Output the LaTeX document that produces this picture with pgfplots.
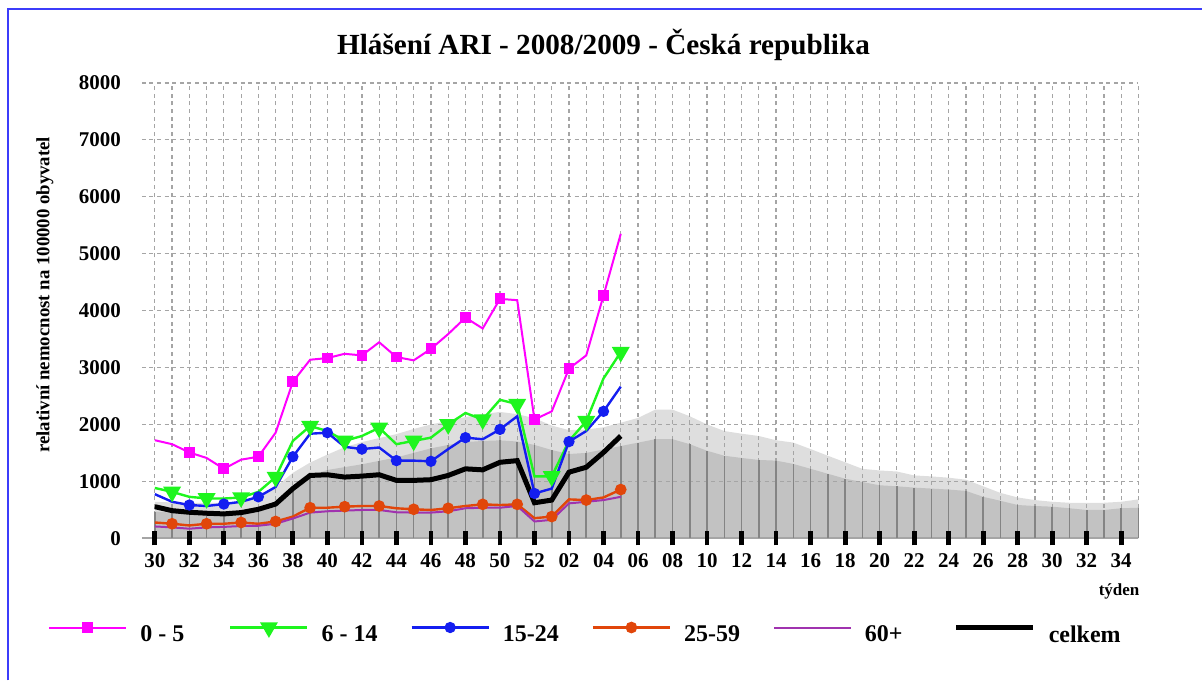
\documentclass[border=0pt]{standalone}
\usepackage{pgfplots}
\pgfplotsset{compat=1.18}
\usepackage{pgfplotstable}
\usepackage{fontspec}
\setmainfont{Liberation Serif}
\definecolor{cmag}{RGB}{255,0,255}
\definecolor{cgreen}{RGB}{30,245,30}
\definecolor{cblue}{RGB}{20,30,240}
\definecolor{corange}{RGB}{225,70,10}
\definecolor{cpurple}{RGB}{160,50,175}
\definecolor{clight}{RGB}{222,222,222}
\definecolor{cdark}{RGB}{194,194,194}
\definecolor{cvline}{RGB}{132,132,132}
\definecolor{cgrid}{RGB}{165,165,165}
\definecolor{cframe}{RGB}{60,60,250}

\pgfplotsset{
  layers/mylayers/.define layer set={
    axis background,axis grid,axis lines,axis tick labels,pre main,main,axis ticks,axis descriptions,axis foreground
  }{
    grid style={/pgfplots/on layer=axis grid},
    tick style={/pgfplots/on layer=axis ticks},
    axis line style={/pgfplots/on layer=axis lines},
    label style={/pgfplots/on layer=axis descriptions},
    legend style={/pgfplots/on layer=axis descriptions},
    title style={/pgfplots/on layer=axis descriptions},
    colorbar style={/pgfplots/on layer=axis descriptions},
    ticklabel style={/pgfplots/on layer=axis tick labels},
    axis background@ style={/pgfplots/on layer=axis background},
    3d box foreground style={/pgfplots/on layer=axis foreground},
  },
}

% i = week index (0 = week 30 of 2008, 22 = week 52, 23 = week 01 of 2009)
\pgfplotstableread{
i  m    g    b    c    o    p
0  1723 884  775  555  277  208
1  1653 815  641  485  255  191
2  1508 728  584  457  225  168
3  1411 700  567  440  255  191
4  1220 698  601  428  255  200
5  1381 717  641  451  277  215
6  1433 815  728  509  255  220
7  1855 1075 901  601  295  255
8  2750 1711 1433 873  381  347
9  3137 1971 1837 1104 537  451
10 3166 1884 1855 1116 537  474
11 3241 1711 1607 1075 555  486
12 3213 1797 1567 1092 567  497
13 3444 1941 1595 1116 567  497
14 3184 1653 1364 1017 527  457
15 3126 1711 1364 1017 509  451
16 3328 1768 1352 1029 497  451
17 3588 2000 1567 1104 527  474
18 3877 2201 1768 1220 567  527
19 3686 2086 1740 1202 596  537
20 4206 2433 1913 1335 584  537
21 4183 2357 2144 1364 596  567
22 2086 1087 787  624  353  295
23 2230 1087 873  671  381  324
24 2981 1711 1698 1161 683  613
25 3213 2057 1884 1248 671  641
26 4264 2808 2230 1508 717  671
27 5350 3270 2664 1797 856  728
}\cur

\pgfplotstableread{
i  L    D
0  640  470
1  630  450
2  620  440
3  620  430
4  620  430
5  650  440
6  720  460
7  900  560
8  1150 900
9  1330 1100
10 1470 1200
11 1600 1250
12 1690 1300
13 1760 1360
14 1830 1420
15 1920 1500
16 2000 1580
17 2060 1640
18 2130 1690
19 2180 1710
20 2220 1720
21 2180 1700
22 2110 1640
23 1980 1550
24 1900 1480
25 1910 1500
26 1950 1560
27 2030 1620
28 2114 1680
29 2260 1740
30 2260 1740
31 2144 1653
32 2000 1537
33 1884 1450
34 1837 1411
35 1797 1376
36 1722 1364
37 1681 1306
38 1567 1220
39 1450 1133
40 1335 1047
41 1220 988
42 1191 931
43 1173 913
44 1104 890
45 1087 873
46 1064 856
47 1029 832
48 913  728
49 797  659
50 717  584
51 671  567
52 641  555
53 624  527
54 624  497
55 624  497
56 641  527
57 683  537
}\hist

\newcommand{\lt}[1]{\makebox[44.5pt][l]{\raisebox{-4pt}[\height][\depth]{#1}}}

\begin{document}
\begin{tikzpicture}
\path (0,0) rectangle (601.5pt,-340.5pt);
\draw[cframe, line width=1pt] (4pt,-340.5pt) -- (4pt,-4.5pt) -- (601.5pt,-4.5pt);
\node[font=\bfseries\fontsize{14.6}{17}\selectfont] at (302pt,-22.5pt) {Hlášení ARI - 2008/2009 - Česká republika};
\node[font=\bfseries\fontsize{9.4}{11}\selectfont, rotate=90] at (22.5pt,-147.5pt) {relativní nemocnost na 100000 obyvatel};
\node[font=\bfseries\fontsize{8.5}{10}\selectfont] at (560pt,-296pt) {týden};
\begin{axis}[
  set layers=mylayers,
  scale only axis,
  width=498.7pt, height=227.85pt,
  at={(71pt,-269.35pt)}, anchor=south west,
  xmin=-0.75, xmax=57, ymin=0, ymax=8000,
  axis x line*=bottom, axis y line*=left,
  x axis line style={cgrid, line width=0.8pt, -},
  y axis line style={draw=none},
  xtick={0,2,...,56},
  xticklabels={30,32,34,36,38,40,42,44,46,48,50,52,02,04,06,08,10,12,14,16,18,20,22,24,26,28,30,32,34},
  minor xtick={1,3,...,57},
  ytick={0,1000,...,8000},
  xmajorgrids, xminorgrids, ymajorgrids,
  grid style={cgrid, line width=0.6pt, dash pattern=on 2pt off 1.8pt},
  minor grid style={cgrid, line width=0.6pt, dash pattern=on 2pt off 1.8pt},
  tick align=center,
  major tick length=7pt,
  minor tick length=0pt,
  every major x tick/.append style={draw=black, line width=2.4pt},
  every minor x tick/.append style={draw=none},
  every major y tick/.append style={draw=none},
  /pgf/number format/assume math mode=true,
  ticklabel style={font=\bfseries\fontsize{10.5}{12}\selectfont},
  yticklabel style={xshift=-3.5pt},
  xticklabel style={anchor=base, yshift=-11pt},
  scaled y ticks=false,
  yticklabel={\pgfmathprintnumber[fixed,precision=0,1000 sep={}]{\tick}},
  legend columns=6,
  legend cell align=left,
  legend style={at={(-0.0942,-0.196)}, anchor=west, draw=none, fill=none,
    inner sep=0pt, column sep=0pt,
    font=\bfseries\fontsize{12}{14}\selectfont,
    nodes={inner sep=0pt},
    /tikz/every odd column/.append style={column sep=6.5pt}},
  legend image code/.code={\draw[mark repeat=2,mark phase=2,#1] plot coordinates {(0pt,0pt) (19.25pt,0pt) (38.5pt,0pt)};},
]
\addplot[fill=clight, draw=none, forget plot, on layer=axis background] table[x=i,y=L] {\hist} \closedcycle;
\addplot[fill=cdark, draw=none, forget plot, on layer=axis background] table[x=i,y=D] {\hist} \closedcycle;
\addplot[ycomb, draw=cvline, solid, line width=0.8pt, no markers, forget plot, on layer=pre main] table[x=i,y=D] {\hist};

\addplot[cmag, line width=1pt, mark=square*, mark size=2.2pt, mark repeat=2, mark phase=3, mark options={solid, fill=cmag}] table[x=i,y=m] {\cur};
\addlegendentry{\lt{0 - 5}}
\addplot[cgreen, line width=1.2pt, mark=triangle*, mark size=4pt, mark repeat=2, mark phase=2, mark options={solid, fill=cgreen, rotate=180}] table[x=i,y=g] {\cur};
\addlegendentry{\lt{6 - 14}}
\addplot[cblue, line width=1.2pt, mark=*, mark size=2.2pt, mark repeat=2, mark phase=3, mark options={solid, fill=cblue}] table[x=i,y=b] {\cur};
\addlegendentry{\lt{15-24}}
\addplot[corange, line width=1.2pt, mark=*, mark size=2.3pt, mark repeat=2, mark phase=2, mark options={solid, fill=corange}] table[x=i,y=o] {\cur};
\addlegendentry{\lt{25-59}}
\addplot[cpurple, line width=1pt, no markers] table[x=i,y=p] {\cur};
\addlegendentry{\lt{60+}}
\addplot[black, line width=2.5pt, no markers] table[x=i,y=c] {\cur};
\addlegendentry{\lt{celkem}}
\end{axis}
\end{tikzpicture}
\end{document}
